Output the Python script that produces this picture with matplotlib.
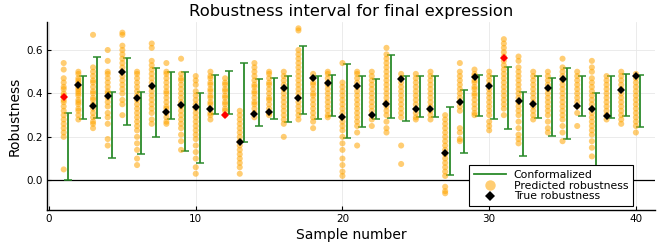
import matplotlib
matplotlib.use("Agg")
import matplotlib.pyplot as plt
from matplotlib.lines import Line2D
import numpy as np

samples = list(range(1, 41))

true_rob = [0.384, 0.440, 0.344, 0.389, 0.500, 0.381, 0.436, 0.315, 0.349, 0.338,
            0.329, 0.300, 0.178, 0.303, 0.313, 0.427, 0.378, 0.472, 0.450, 0.293,
            0.432, 0.300, 0.352, 0.467, 0.327, 0.329, 0.127, 0.359, 0.476, 0.436,
            0.565, 0.363, 0.353, 0.424, 0.465, 0.344, 0.330, 0.298, 0.415, 0.481]

lower = [0.000, 0.283, 0.289, 0.104, 0.253, 0.121, 0.198, 0.283, 0.135, 0.078,
         0.303, 0.305, 0.174, 0.252, 0.281, 0.270, 0.304, 0.283, 0.296, 0.197,
         0.244, 0.281, 0.289, 0.273, 0.293, 0.293, 0.022, 0.124, 0.296, 0.284,
         0.235, 0.114, 0.289, 0.204, 0.192, 0.298, 0.050, 0.287, 0.298, 0.244]

upper = [0.310, 0.482, 0.568, 0.405, 0.562, 0.405, 0.515, 0.498, 0.500, 0.401,
         0.487, 0.505, 0.539, 0.467, 0.470, 0.479, 0.620, 0.480, 0.487, 0.535,
         0.478, 0.468, 0.579, 0.482, 0.478, 0.478, 0.336, 0.418, 0.484, 0.480,
         0.521, 0.405, 0.478, 0.473, 0.519, 0.482, 0.401, 0.478, 0.488, 0.485]

predicted = [
    [0.54, 0.51, 0.47, 0.45, 0.43, 0.42, 0.40, 0.39, 0.37, 0.36, 0.34, 0.32, 0.30, 0.28, 0.26, 0.24, 0.22, 0.20, 0.05],
    [0.50, 0.49, 0.47, 0.46, 0.45, 0.44, 0.43, 0.42, 0.41, 0.40, 0.39, 0.37, 0.36, 0.35, 0.33, 0.32, 0.30, 0.28],
    [0.67, 0.52, 0.50, 0.48, 0.46, 0.45, 0.43, 0.41, 0.40, 0.38, 0.37, 0.35, 0.33, 0.31, 0.29, 0.27, 0.26, 0.24],
    [0.60, 0.55, 0.50, 0.49, 0.47, 0.45, 0.43, 0.41, 0.40, 0.38, 0.36, 0.34, 0.31, 0.29, 0.26, 0.19, 0.16],
    [0.68, 0.67, 0.62, 0.60, 0.58, 0.56, 0.54, 0.52, 0.50, 0.48, 0.46, 0.44, 0.42, 0.40, 0.37, 0.35, 0.30],
    [0.50, 0.49, 0.47, 0.45, 0.43, 0.41, 0.39, 0.37, 0.35, 0.33, 0.31, 0.29, 0.27, 0.25, 0.23, 0.20, 0.17, 0.14, 0.10, 0.07],
    [0.63, 0.61, 0.55, 0.53, 0.51, 0.49, 0.47, 0.45, 0.43, 0.41, 0.39, 0.37, 0.35, 0.33, 0.31, 0.28, 0.26],
    [0.54, 0.50, 0.49, 0.47, 0.45, 0.43, 0.41, 0.40, 0.38, 0.36, 0.34, 0.33, 0.31, 0.29, 0.27, 0.26],
    [0.56, 0.49, 0.47, 0.46, 0.44, 0.42, 0.40, 0.38, 0.36, 0.34, 0.32, 0.30, 0.28, 0.26, 0.24, 0.21, 0.18, 0.14],
    [0.48, 0.46, 0.44, 0.41, 0.39, 0.37, 0.35, 0.33, 0.31, 0.29, 0.27, 0.25, 0.23, 0.21, 0.19, 0.16, 0.13, 0.10, 0.06, 0.03],
    [0.50, 0.48, 0.47, 0.45, 0.44, 0.42, 0.41, 0.39, 0.38, 0.36, 0.35, 0.33, 0.31, 0.30, 0.28],
    [0.47, 0.45, 0.44, 0.42, 0.41, 0.39, 0.38, 0.36, 0.35, 0.33, 0.32, 0.30],
    [0.32, 0.30, 0.28, 0.26, 0.24, 0.22, 0.20, 0.18, 0.16, 0.14, 0.12, 0.10, 0.08, 0.06, 0.03],
    [0.54, 0.52, 0.50, 0.48, 0.46, 0.44, 0.43, 0.41, 0.40, 0.38, 0.36, 0.35, 0.33, 0.31, 0.29],
    [0.50, 0.49, 0.47, 0.45, 0.44, 0.42, 0.40, 0.38, 0.37, 0.35, 0.33, 0.31, 0.30],
    [0.50, 0.48, 0.46, 0.44, 0.42, 0.40, 0.38, 0.36, 0.34, 0.32, 0.30, 0.28, 0.26, 0.20],
    [0.70, 0.69, 0.60, 0.58, 0.56, 0.54, 0.52, 0.50, 0.48, 0.46, 0.44, 0.42, 0.40, 0.38, 0.36, 0.34, 0.32, 0.30, 0.28],
    [0.49, 0.47, 0.45, 0.44, 0.42, 0.40, 0.39, 0.37, 0.35, 0.33, 0.31, 0.29, 0.27, 0.24],
    [0.50, 0.49, 0.47, 0.45, 0.44, 0.42, 0.40, 0.38, 0.36, 0.34, 0.32, 0.30, 0.29],
    [0.54, 0.45, 0.43, 0.41, 0.39, 0.37, 0.35, 0.33, 0.31, 0.29, 0.27, 0.25, 0.23, 0.20, 0.17, 0.14, 0.10, 0.07, 0.04, 0.02],
    [0.50, 0.49, 0.47, 0.45, 0.43, 0.41, 0.39, 0.37, 0.35, 0.33, 0.31, 0.29, 0.27, 0.25, 0.22, 0.16],
    [0.50, 0.48, 0.46, 0.44, 0.42, 0.40, 0.38, 0.36, 0.34, 0.32, 0.30, 0.28, 0.25],
    [0.61, 0.58, 0.56, 0.54, 0.52, 0.50, 0.48, 0.46, 0.44, 0.42, 0.40, 0.38, 0.36, 0.34, 0.32, 0.30, 0.27, 0.24, 0.22],
    [0.49, 0.47, 0.45, 0.43, 0.41, 0.39, 0.37, 0.35, 0.33, 0.31, 0.29, 0.16, 0.075],
    [0.49, 0.47, 0.45, 0.43, 0.41, 0.39, 0.37, 0.35, 0.33, 0.31, 0.29, 0.28],
    [0.50, 0.48, 0.46, 0.44, 0.42, 0.40, 0.38, 0.36, 0.34, 0.32, 0.30, 0.28],
    [0.30, 0.28, 0.26, 0.24, 0.22, 0.20, 0.18, 0.16, 0.14, 0.12, 0.10, 0.08, 0.06, 0.04, 0.02, -0.03, -0.05, -0.06],
    [0.54, 0.50, 0.48, 0.46, 0.44, 0.42, 0.40, 0.38, 0.36, 0.34, 0.32, 0.24, 0.22, 0.19, 0.18],
    [0.51, 0.49, 0.48, 0.46, 0.45, 0.43, 0.42, 0.40, 0.39, 0.37, 0.35, 0.33, 0.31, 0.30],
    [0.50, 0.48, 0.46, 0.44, 0.42, 0.40, 0.38, 0.36, 0.34, 0.32, 0.30, 0.27, 0.25, 0.23],
    [0.65, 0.63, 0.61, 0.59, 0.57, 0.55, 0.53, 0.51, 0.49, 0.47, 0.45, 0.43, 0.41, 0.39, 0.37, 0.35, 0.33, 0.30],
    [0.57, 0.55, 0.52, 0.50, 0.48, 0.46, 0.44, 0.42, 0.40, 0.38, 0.36, 0.34, 0.32, 0.30, 0.27, 0.24, 0.21, 0.19, 0.17],
    [0.50, 0.48, 0.46, 0.44, 0.42, 0.40, 0.38, 0.36, 0.34, 0.32, 0.30, 0.28],
    [0.50, 0.48, 0.46, 0.44, 0.42, 0.40, 0.38, 0.36, 0.34, 0.32, 0.30, 0.27, 0.24, 0.22],
    [0.56, 0.52, 0.50, 0.48, 0.46, 0.44, 0.42, 0.40, 0.38, 0.36, 0.34, 0.32, 0.30, 0.28, 0.25, 0.22, 0.18],
    [0.50, 0.48, 0.46, 0.44, 0.42, 0.40, 0.38, 0.36, 0.34, 0.31, 0.25],
    [0.55, 0.52, 0.50, 0.47, 0.45, 0.43, 0.41, 0.39, 0.37, 0.35, 0.33, 0.31, 0.29, 0.27, 0.25, 0.23, 0.21, 0.18, 0.15, 0.11],
    [0.48, 0.46, 0.44, 0.42, 0.40, 0.38, 0.36, 0.34, 0.32, 0.30, 0.28],
    [0.50, 0.48, 0.46, 0.44, 0.42, 0.40, 0.38, 0.36, 0.34, 0.32, 0.30, 0.28, 0.26],
    [0.49, 0.47, 0.45, 0.43, 0.41, 0.39, 0.37, 0.35, 0.33, 0.31, 0.29, 0.27, 0.25, 0.22],
]

x_ticks = [0, 10, 20, 30, 40]
y_ticks = [0.0, 0.2, 0.4, 0.6]

GREEN = "#2a8a2a"
ORANGE = "#FFA500"

plt.rcParams['font.family'] = ['DejaVu Sans']
fig = plt.figure(figsize=(6.64, 2.49), dpi=100)
ax = fig.add_axes([0.0703, 0.1566, 0.9161, 0.755])

ax.axhline(0, color="black", lw=0.9, zorder=1)

xs = np.array(samples, dtype=float)
lo = np.array(lower)
up = np.array(upper)
mid = (lo + up) / 2
ax.errorbar(xs + 0.3, mid, yerr=[mid - lo, up - mid], fmt='none',
            ecolor=GREEN, elinewidth=1.3, capsize=3.0, capthick=1.1, zorder=2)

for s, vals in zip(samples, predicted):
    ax.scatter([s] * len(vals), vals, s=19, color=ORANGE, alpha=0.55,
               edgecolors='none', zorder=3)

tr = np.array(true_rob)
colors = ['red' if (t < l or t > u) else 'black' for t, l, u in zip(tr, lo, up)]
for s, t, c in zip(samples, tr, colors):
    ax.plot(s, t, marker='D', color=c, markersize=4.5, markeredgewidth=0, zorder=4)

ax.set_xlim(-0.16, 41.3)
ax.set_ylim(-0.137, 0.729)
ax.set_xticks(x_ticks)
ax.set_yticks(y_ticks)
ax.set_yticklabels([f"{v:.1f}" for v in y_ticks])
ax.tick_params(direction='in', length=3, labelsize=7.5, width=0.8, pad=3)
ax.grid(True, color='#e8e8e8', lw=0.6, zorder=0)
ax.set_axisbelow(True)
for sp in ['top', 'right']:
    ax.spines[sp].set_visible(False)
for sp in ['left', 'bottom']:
    ax.spines[sp].set_linewidth(1.0)

ax.set_title("Robustness interval for final expression", fontsize=11.8, pad=4)
ax.set_xlabel("Sample number", fontsize=10, labelpad=3)
ax.set_ylabel("Robustness", fontsize=10, labelpad=3)

handles = [
    Line2D([], [], color=GREEN, lw=1.3),
    Line2D([], [], color=ORANGE, alpha=0.55, marker='o', ls='none', markersize=7.5, markeredgewidth=0),
    Line2D([], [], color='black', marker='D', ls='none', markersize=5, markeredgewidth=0),
]
labels = ["Conformalized", "Predicted robustness", "True robustness"]
leg = ax.legend(handles, labels, loc='lower right', bbox_to_anchor=(0.964, 0.02),
                fontsize=7.8, frameon=True, fancybox=False, framealpha=1,
                edgecolor='black', borderpad=0.45, labelspacing=0.08,
                handlelength=3.0, handletextpad=0.7, borderaxespad=0)
leg.get_frame().set_linewidth(0.8)

fig.savefig("out.png", dpi=100)
